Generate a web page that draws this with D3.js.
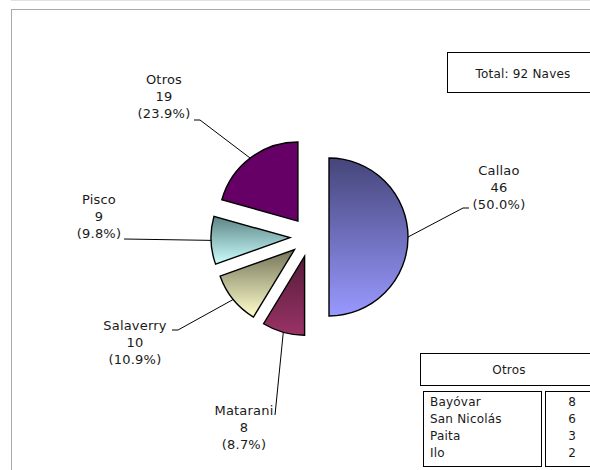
<!DOCTYPE html>
<html>
<head>
<meta charset="utf-8">
<script src="https://cdn.jsdelivr.net/npm/d3@7"></script>
<style>
  html, body { margin: 0; padding: 0; background: #fff; }
  svg { display: block; font-family: "DejaVu Sans", Verdana, sans-serif; }
</style>
</head>
<body>
<svg id="chart" width="590" height="470"></svg>
<script>
// ---- data ----
const categories = ["Callao", "Matarani", "Salaverry", "Pisco", "Otros"];
const values = [46, 8, 10, 9, 19];
const percentLabels = ["(50.0%)", "(8.7%)", "(10.9%)", "(9.8%)", "(23.9%)"];
const totalLabel = "Total: 92 Naves";
const otrosTitle = "Otros";
const otrosNames = ["Bayóvar", "San Nicolás", "Paita", "Ilo"];
const otrosValues = [8, 6, 3, 2];

// ---- styles / layout (kept apart from data) ----
const topColors = ["#45457a", "#561c3a", "#74745a", "#5c8484", "#660066"];
const bottomColors = ["#9999ff", "#993366", "#ffffcc", "#ccffff", "#660066"];
const center = { x: 310, y: 237 };
const radius = 79;
const explode = [19, 20, 20, 20, 20];
const labelLayout = [
  { x: 499, y: 175, end: [469, 208], elbow: [463, 208] },
  { x: 244, y: 415, end: [275, 415], elbow: [275, 415] },
  { x: 135, y: 330, end: [172, 330], elbow: [178, 330] },
  { x: 99,  y: 204, end: [124, 239], elbow: [124, 239] },
  { x: 164, y: 84,  end: [194, 120], elbow: [200, 120] }
];
const lineH = 17;
const textColor = "#1a1a1a";

const svg = d3.select("#chart");

// frame
svg.append("line").attr("x1", 11).attr("x2", 590).attr("y1", 0.5).attr("y2", 0.5)
  .attr("stroke", "#e2e2e2");
svg.append("line").attr("x1", 11).attr("x2", 590).attr("y1", 9.5).attr("y2", 9.5)
  .attr("stroke", "#a8a8a8");
svg.append("line").attr("x1", 11.5).attr("x2", 11.5).attr("y1", 9).attr("y2", 470)
  .attr("stroke", "#a8a8a8");

// gradients
const defs = svg.append("defs");
categories.forEach((c, i) => {
  const g = defs.append("linearGradient").attr("id", "g" + i)
    .attr("x1", 0).attr("y1", 0).attr("x2", 0).attr("y2", 1);
  g.append("stop").attr("offset", "0%").attr("stop-color", topColors[i]);
  g.append("stop").attr("offset", "100%").attr("stop-color", bottomColors[i]);
});

const pie = d3.pie().sort(null).value(d => d).startAngle(0).endAngle(2 * Math.PI);
const arcs = pie(values);
const arc = d3.arc().innerRadius(0).outerRadius(radius);

const slices = svg.append("g").attr("transform", `translate(${center.x},${center.y})`);

arcs.forEach((a, i) => {
  const mid = (a.startAngle + a.endAngle) / 2;
  const dx = Math.sin(mid) * explode[i];
  const dy = -Math.cos(mid) * explode[i];
  slices.append("path")
    .attr("d", arc(a))
    .attr("transform", `translate(${dx},${dy})`)
    .attr("fill", `url(#g${i})`)
    .attr("stroke", "#000")
    .attr("stroke-width", 1.4)
    .attr("stroke-linejoin", "miter");

  const px = center.x + dx + Math.sin(mid) * radius;
  const py = center.y + dy - Math.cos(mid) * radius;
  const L = labelLayout[i];
  svg.append("polyline")
    .attr("points", [[px, py], L.elbow, L.end].map(p => p.join(",")).join(" "))
    .attr("fill", "none").attr("stroke", "#000").attr("stroke-width", 1);

  const t = svg.append("text").attr("text-anchor", "middle")
    .attr("font-size", 13).attr("letter-spacing", 0.2).attr("fill", textColor);
  [categories[i], String(values[i]), percentLabels[i]].forEach((s, k) => {
    t.append("tspan").attr("x", L.x).attr("y", L.y + k * lineH).text(s);
  });
});

// Total box
svg.append("rect").attr("x", 447.5).attr("y", 52.5).attr("width", 160).attr("height", 40)
  .attr("fill", "#fff").attr("stroke", "#000");
svg.append("text").attr("x", 523).attr("y", 78).attr("text-anchor", "middle")
  .attr("font-size", 12).attr("letter-spacing", 0.2).attr("fill", textColor).text(totalLabel);

// Otros table
svg.append("rect").attr("x", 420.5).attr("y", 353.5).attr("width", 190).attr("height", 32)
  .attr("fill", "#fff").attr("stroke", "#000");
svg.append("text").attr("x", 509).attr("y", 373.5).attr("text-anchor", "middle")
  .attr("font-size", 12).attr("letter-spacing", 0.2).attr("fill", textColor).text(otrosTitle);
svg.append("rect").attr("x", 423.5).attr("y", 391.5).attr("width", 118).attr("height", 75)
  .attr("fill", "#fff").attr("stroke", "#000");
svg.append("rect").attr("x", 545.5).attr("y", 391.5).attr("width", 80).attr("height", 75)
  .attr("fill", "#fff").attr("stroke", "#000");

const rowY = d3.scalePoint().domain(otrosNames).range([406, 456.5]);
otrosNames.forEach((n, i) => {
  svg.append("text").attr("x", 430).attr("y", rowY(n))
    .attr("font-size", 12).attr("letter-spacing", 0.2).attr("fill", textColor).text(n);
  svg.append("text").attr("x", 572).attr("y", rowY(n)).attr("text-anchor", "middle")
    .attr("font-size", 12).attr("fill", textColor).text(otrosValues[i]);
});
</script>
</body>
</html>
